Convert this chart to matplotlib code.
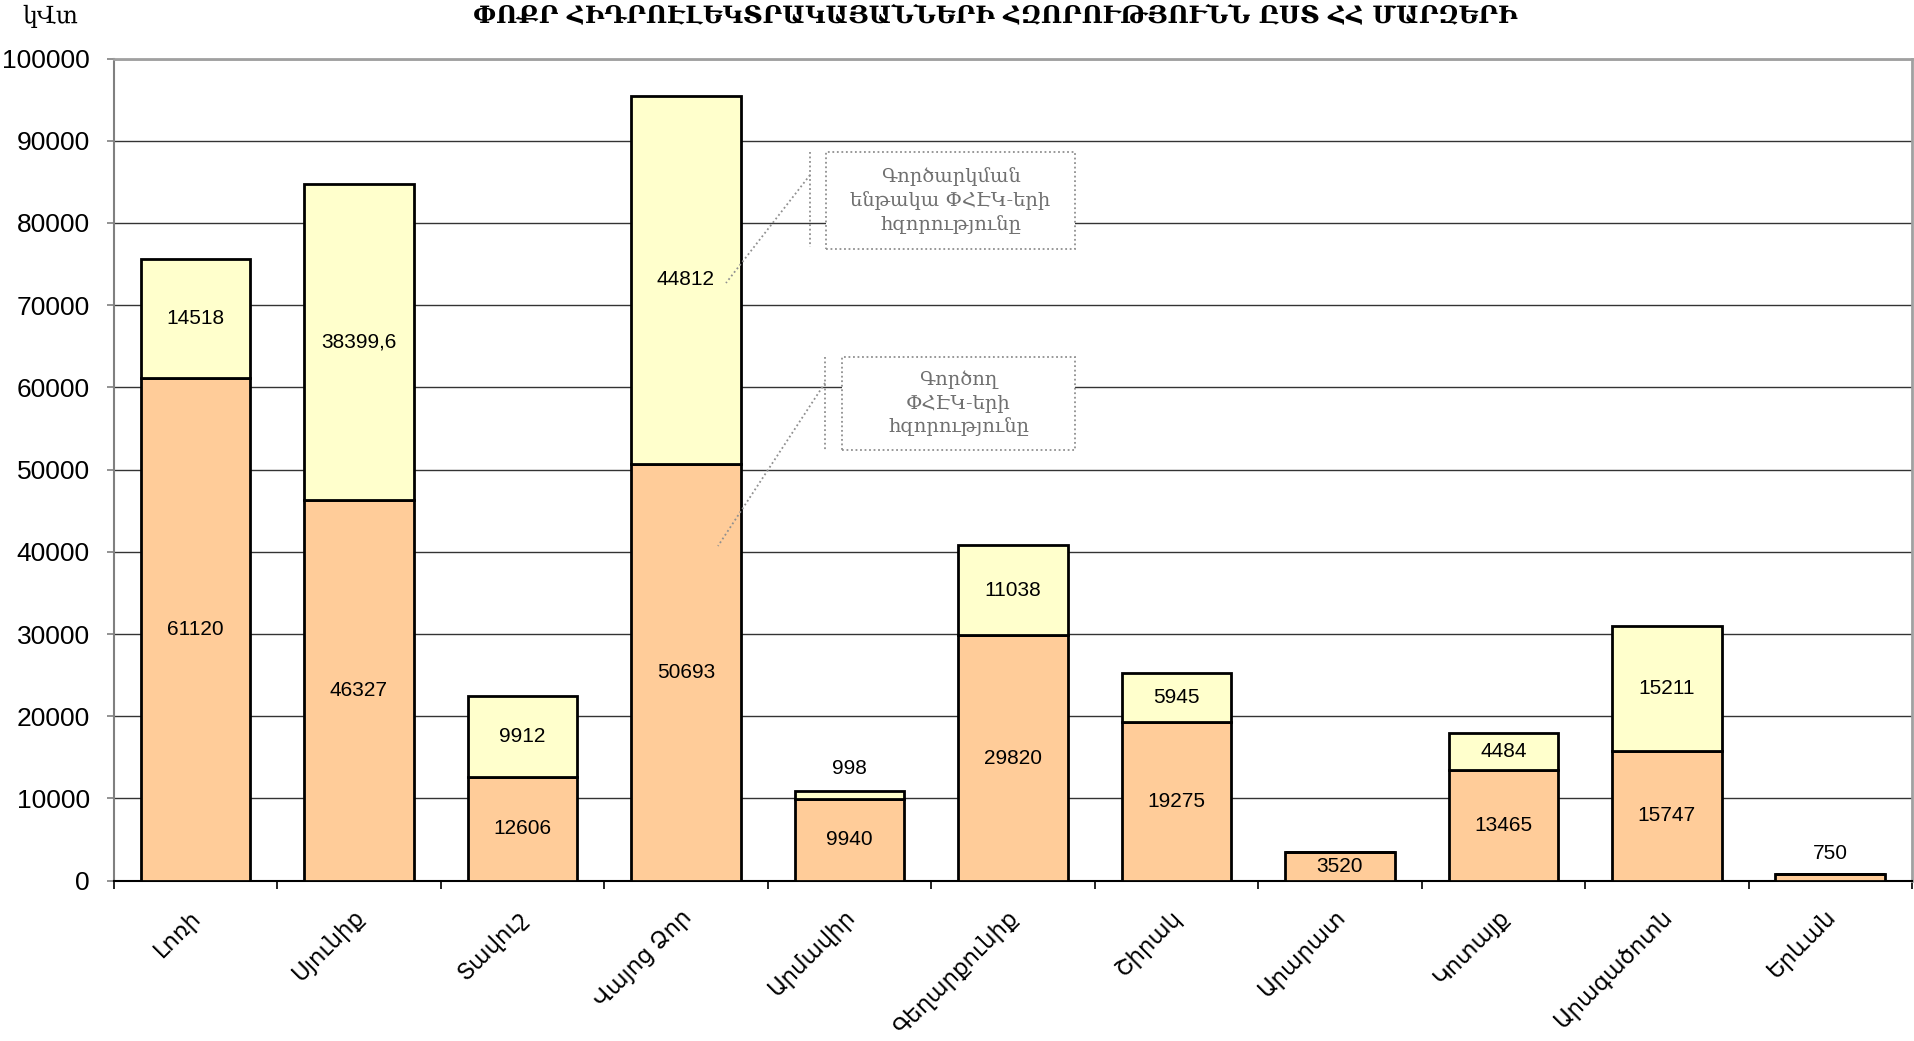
import matplotlib
matplotlib.use("Agg")
import matplotlib.pyplot as plt
from matplotlib.lines import Line2D
from matplotlib.patches import Rectangle
import matplotlib.transforms as mtransforms
import numpy as np

categories = ["Լոռի", "Սյունիք", "Տավուշ", "Վայոց Ձոր", "Արմավիր", "Գեղարքունիք",
              "Շիրակ", "Արարատ", "Կոտայք", "Արագածոտն", "Երևան"]
operating = [61120, 46327, 12606, 50693, 9940, 29820, 19275, 3520, 13465, 15747, 750]
planned = [14518, 38399.6, 9912, 44812, 998, 11038, 5945, 0, 4484, 15211, 0]
planned_labels = ["14518", "38399,6", "9912", "44812", "998", "11038", "5945", "", "4484", "15211", ""]
yticks = [0, 10000, 20000, 30000, 40000, 50000, 60000, 70000, 80000, 90000, 100000]

title = "ՓՈՔՐ ՀԻԴՐՈԷԼԵԿՏՐԱԿԱՅԱՆՆԵՐԻ ՀԶՈՐՈՒԹՅՈՒՆՆ ԸՍՏ ՀՀ ՄԱՐԶԵՐԻ"
unit = "կՎտ"
note_planned = "Գործարկման\nենթակա ՓՀԷԿ-երի\nհզորությունը"
note_operating = "Գործող\nՓՀԷԿ-երի\nհզորությունը"

W, H = 1915, 1041
fig = plt.figure(figsize=(W / 100, H / 100), dpi=100)
fig.patch.set_facecolor("white")

left, right, top, bottom = 113.6, 1912, 58.6, 880.6
ax = fig.add_axes([left / W, 1 - bottom / H, (right - left) / W, (bottom - top) / H])

sans = ["Liberation Sans", "DejaVu Sans"]
serif = ["DejaVu Serif"]

x = np.arange(len(categories))
bw = 0.67
orange = "#FFCC99"
yellow = "#FFFFCC"
ax.bar(x, operating, width=bw, color=orange, edgecolor="black", linewidth=2, zorder=3)
ax.bar(x, planned, width=bw, bottom=operating, color=yellow, edgecolor="black", linewidth=2, zorder=3)

ax.set_xlim(-0.5, len(categories) - 0.5)
ax.set_ylim(0, 100000)
ax.set_yticks(yticks)
ax.set_yticklabels([str(v) for v in yticks], fontsize=19, family=sans)
ax.yaxis.grid(True, color="#333333", linewidth=1.0, zorder=0)
ax.set_axisbelow(True)

fs_lab = 15
small = 4000
for i in range(len(categories)):
    o = operating[i]
    p = planned[i]
    if p > 0:
        if o >= small:
            ax.text(x[i], o / 2, str(o), ha="center", va="center", fontsize=fs_lab, family=sans, zorder=4)
        if p >= small:
            ax.text(x[i], o + p / 2, planned_labels[i], ha="center", va="center", fontsize=fs_lab, family=sans, zorder=4)
        else:
            ax.text(x[i], o + p + 2700, planned_labels[i], ha="center", va="center", fontsize=fs_lab, family=sans, zorder=4)
    else:
        if o >= 3000:
            ax.text(x[i], o / 2, str(o), ha="center", va="center", fontsize=fs_lab, family=sans, zorder=4)
        else:
            ax.text(x[i], o + 2600, str(o), ha="center", va="center", fontsize=fs_lab, family=sans, zorder=4)

ax.set_xticks(x)
ax.set_xticklabels(categories, rotation=45, ha="right", va="top", fontsize=16.5, family=sans,
                   rotation_mode="default")
ax.set_xticks(np.arange(-0.5, len(categories), 1.0), minor=True)
ax.tick_params(axis="x", which="major", length=0, pad=18)
ax.tick_params(axis="x", which="minor", length=6, width=1.2, direction="out", color="black")
ax.tick_params(axis="y", which="major", length=5, width=1.2, direction="out", pad=12, color="#808080")
shift = mtransforms.ScaledTranslation(10 / 100, 0, fig.dpi_scale_trans)
for lbl in ax.get_xticklabels():
    lbl.set_transform(lbl.get_transform() + shift)

for s in ["top", "right"]:
    ax.spines[s].set_color("#A0A0A0")
    ax.spines[s].set_linewidth(2)
ax.spines["left"].set_color("#808080")
ax.spines["left"].set_linewidth(1.5)
ax.spines["bottom"].set_color("black")
ax.spines["bottom"].set_linewidth(1.5)

fig.text(995 / W, 1 - 15 / H, title, ha="center", va="center", fontsize=17.5, family=serif,
         fontweight="bold")
fig.text(22 / W, 1 - 16 / H, unit, ha="left", va="center", fontsize=17, family=serif)


def px_line(xs, ys, **kw):
    fig.add_artist(Line2D([v / W for v in xs], [1 - v / H for v in ys], transform=fig.transFigure, **kw))


def callout(box, barx, bar_y, lead_from, lead_to, text):
    x0, y0, x1, y1 = box
    fig.add_artist(Rectangle((x0 / W, 1 - y1 / H), (x1 - x0) / W, (y1 - y0) / H, transform=fig.transFigure,
                             facecolor="white", edgecolor="#909090", linestyle=(0, (1, 1.5)), linewidth=1.3,
                             zorder=5))
    px_line([barx, barx], bar_y, color="#909090", linestyle=(0, (1, 1.5)), linewidth=1.3, zorder=5)
    px_line([lead_from[0], lead_to[0]], [lead_from[1], lead_to[1]], color="#909090",
            linestyle=(0, (1, 1.5)), linewidth=1.3, zorder=5)
    fig.text((x0 + x1) / 2 / W, 1 - (y0 + y1) / 2 / H, text, ha="center", va="center", fontsize=14,
             family=serif, color="#707070", linespacing=1.35, zorder=6)


callout((826, 152, 1075, 249), 810, [152, 247], (810, 175), (726, 283), note_planned)
callout((842, 357, 1075, 450), 825, [357, 450], (825, 383), (718, 546), note_operating)

fig.savefig("out.png", dpi=100, facecolor="white")
